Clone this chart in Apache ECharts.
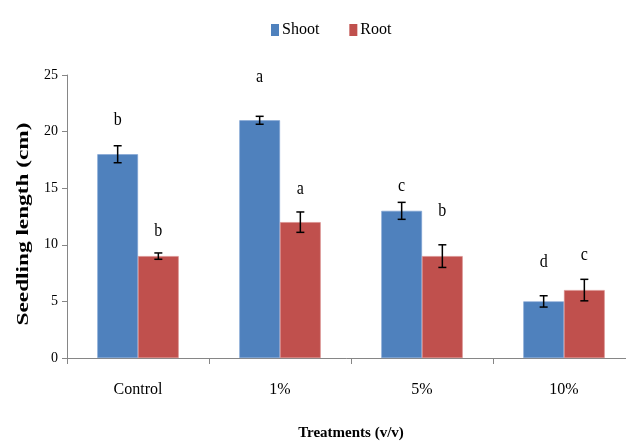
<!DOCTYPE html>
<html>
<head>
<meta charset="utf-8">
<script src="https://cdn.jsdelivr.net/npm/echarts@6/dist/echarts.min.js"></script>
<style>
html,body{margin:0;padding:0;background:#fff;}
#chart{width:626px;height:441px;}
</style>
</head>
<body>
<div id="chart"></div>
<script>
const categories = ['Control', '1%', '5%', '10%'];
const shoot = [18, 21, 13, 5];
const root = [9, 12, 9, 6];
const shootErr = [0.75, 0.35, 0.75, 0.5];
const rootErr = [0.28, 0.9, 1.0, 0.95];
const shootLetters = ['b', 'a', 'c', 'd'];
const rootLetters = ['b', 'a', 'b', 'c'];
const shootLetterY = [21.0, 24.8, 15.2, 8.5];
const rootLetterY = [11.25, 14.9, 13.0, 9.1];
const yTicks = [0, 5, 10, 15, 20, 25];

const FONT = '"Liberation Serif", "Times New Roman", serif';
const GAP = 0.427;

function errSeries(vals, errs, sign) {
  return {
    type: 'custom',
    silent: true,
    z: 5,
    data: vals.map((v, i) => [i, v, errs[i]]),
    encode: { x: 0, y: 1 },
    renderItem: function (params, api) {
      const i = api.value(0), v = api.value(1), e = api.value(2);
      const catW = api.size([1, 0])[0];
      const bw = catW * (1 - GAP) / 2;
      const off = sign * bw / 2;
      const t = api.coord([i, v + e]);
      const b = api.coord([i, v - e]);
      const x = t[0] + off;
      const cap = 4;
      const st = { stroke: '#000', lineWidth: 1.5 };
      return {
        type: 'group',
        children: [
          { type: 'line', shape: { x1: x, y1: t[1], x2: x, y2: b[1] }, style: st },
          { type: 'line', shape: { x1: x - cap, y1: t[1], x2: x + cap, y2: t[1] }, style: st },
          { type: 'line', shape: { x1: x - cap, y1: b[1], x2: x + cap, y2: b[1] }, style: st }
        ]
      };
    }
  };
}

function letterSeries(ys, letters, sign) {
  return {
    type: 'custom',
    silent: true,
    z: 6,
    data: ys.map((y, i) => [i, y]),
    encode: { x: 0, y: 1 },
    renderItem: function (params, api) {
      const i = api.value(0), y = api.value(1);
      const catW = api.size([1, 0])[0];
      const bw = catW * (1 - GAP) / 2;
      const off = sign * bw / 2;
      const p = api.coord([i, y]);
      return {
        type: 'text',
        x: p[0] + off,
        y: p[1],
        scaleY: 1.2,
        style: {
          text: letters[params.dataIndex],
          fill: '#000',
          font: '16px ' + FONT,
          align: 'center',
          verticalAlign: 'middle'
        }
      };
    }
  };
}

const chart = echarts.init(document.getElementById('chart'), null, { renderer: 'canvas' });
chart.setOption({
  animation: false,
  backgroundColor: '#fff',
  textStyle: { fontFamily: FONT },
  legend: {
    data: ['Shoot', 'Root'],
    left: 266,
    top: 17,
    icon: 'rect',
    itemWidth: 8,
    itemHeight: 12,
    itemGap: 30,
    itemStyle: { borderWidth: 0 },
    textStyle: { fontFamily: FONT, fontSize: 16, color: '#000', padding: [0, 0, 0, -2] }
  },
  grid: { left: 67, top: 75, width: 568, height: 283, containLabel: false, outerBoundsMode: 'none' },
  xAxis: {
    type: 'category',
    data: categories,
    boundaryGap: true,
    axisLine: { lineStyle: { color: '#868686', width: 1 } },
    axisTick: { show: true, length: 6, alignWithLabel: false, lineStyle: { color: '#868686' } },
    axisLabel: { color: '#000', fontFamily: FONT, fontSize: 16, margin: 24 },
    name: 'Treatments (v/v)',
    nameLocation: 'middle',
    nameGap: 68,
    nameTextStyle: { fontFamily: FONT, fontSize: 15, fontWeight: 'bold', color: '#000' }
  },
  yAxis: {
    type: 'value',
    min: yTicks[0],
    max: yTicks[yTicks.length - 1],
    interval: 5,
    splitLine: { show: false },
    axisLine: { show: true, lineStyle: { color: '#868686', width: 1 } },
    axisTick: { show: true, length: 5, lineStyle: { color: '#868686' } },
    axisLabel: { color: '#000', fontFamily: FONT, fontSize: 14, margin: 9 }
  },
  graphic: [
    {
      type: 'text',
      x: 24,
      y: 224,
      rotation: Math.PI / 2,
      scaleX: 1.55,
      scaleY: 1.1,
      style: {
        text: 'Seedling length (cm)',
        font: 'bold 15px ' + FONT,
        fill: '#000',
        align: 'center',
        verticalAlign: 'middle'
      }
    }
  ],
  series: [
    {
      name: 'Shoot',
      type: 'bar',
      data: shoot,
      barGap: '0%',
      barCategoryGap: (GAP * 100) + '%',
      itemStyle: { color: '#4F81BD', borderColor: '#7FA3D3', borderWidth: 0.6 }
    },
    {
      name: 'Root',
      type: 'bar',
      data: root,
      barGap: '0%',
      barCategoryGap: (GAP * 100) + '%',
      itemStyle: { color: '#C0504D', borderColor: '#D98A88', borderWidth: 0.6 }
    },
    errSeries(shoot, shootErr, -1),
    errSeries(root, rootErr, 1),
    letterSeries(shootLetterY, shootLetters, -1),
    letterSeries(rootLetterY, rootLetters, 1)
  ]
});
</script>
</body>
</html>
